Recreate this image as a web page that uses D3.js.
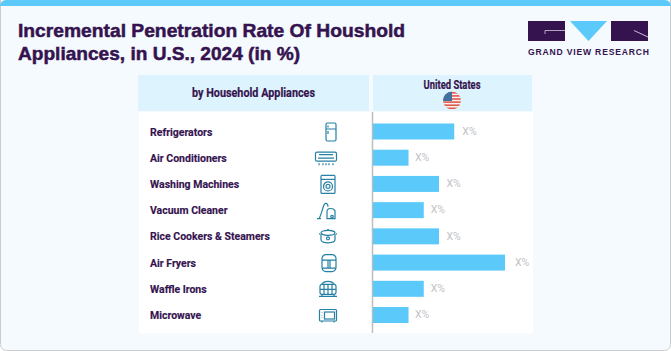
<!DOCTYPE html>
<html>
<head>
<meta charset="utf-8">
<script src="https://cdn.jsdelivr.net/npm/d3@7"></script>
<style>
  html, body { margin: 0; padding: 0; background: #fff; }
  svg { display: block; }
</style>
</head>
<body>
<svg id="chart" width="671" height="351"></svg>
<script>
const categories = [
  "Refrigerators",
  "Air Conditioners",
  "Washing Machines",
  "Vacuum Cleaner",
  "Rice Cookers & Steamers",
  "Air Fryers",
  "Waffle Irons",
  "Microwave",
];
// the source hides the numbers behind "X%", so these are bar lengths in relative units
const values = [16, 7, 13, 10, 13, 26, 10, 7];
const valueLabels = ["X%", "X%", "X%", "X%", "X%", "X%", "X%", "X%"];
const titleLines = ["Incremental Penetration Rate Of Houshold", "Appliances, in U.S., 2024 (in %)"];

const width = 671;
const height = 351;
const dark = "#35134F";
const blue = "#5BC9FA";
const iconColor = "#2580A3";
const titleFont = "'Liberation Sans', Arial, sans-serif";
const bodyFont = "Roboto, 'Liberation Sans', sans-serif";

const svg = d3.select("#chart");

// card background
svg.append("rect").attr("width", width).attr("height", height).attr("fill", "#fff");
svg.append("rect")
  .attr("x", 0.5).attr("y", -6).attr("width", width - 1).attr("height", height + 5.5)
  .attr("rx", 6)
  .attr("fill", "#F4FAFE").attr("stroke", "#C9CDD0");
const defs = svg.append("defs");
defs.append("clipPath").attr("id", "topClip")
  .append("rect").attr("width", width).attr("height", 40).attr("rx", 6);
svg.append("rect")
  .attr("width", width).attr("height", 6)
  .attr("fill", blue).attr("clip-path", "url(#topClip)");

// title
svg.append("g").selectAll("text")
  .data(titleLines)
  .join("text")
  .attr("x", 18)
  .attr("y", (d, i) => 37 + i * 23)
  .attr("fill", dark)
  .attr("stroke", dark)
  .attr("stroke-width", 0.5)
  .attr("font-family", titleFont)
  .attr("font-weight", 700)
  .attr("font-size", 18.5)
  .attr("textLength", (d, i) => (i === 0 ? 387 : 282))
  .attr("lengthAdjust", "spacingAndGlyphs")
  .text((d) => d);

// logo
const logo = svg.append("g");
logo.append("rect").attr("x", 528).attr("y", 21).attr("width", 37).attr("height", 20).attr("fill", dark);
logo.append("path").attr("d", "M570,21H607L588.5,41Z").attr("fill", blue);
logo.append("rect").attr("x", 611).attr("y", 21).attr("width", 37).attr("height", 20).attr("fill", dark);
logo.append("path").attr("d", "M565,30.5H545V34").attr("fill", "none").attr("stroke", "#E8E4EE").attr("stroke-width", 0.7);
logo.append("path").attr("d", "M634,30.5L648,37").attr("fill", "none").attr("stroke", "#E8E4EE").attr("stroke-width", 0.8);
logo.append("text")
  .attr("x", 528).attr("y", 54.5)
  .attr("fill", dark)
  .attr("font-family", "'Liberation Sans', Arial, sans-serif")
  .attr("font-weight", 700)
  .attr("font-size", 8.6)
  .attr("textLength", 121)
  .attr("lengthAdjust", "spacing")
  .text("GRAND VIEW RESEARCH");

// table panels
svg.append("rect").attr("x", 139).attr("y", 112).attr("width", 394).attr("height", 221).attr("fill", "#fff");
svg.append("rect").attr("x", 138).attr("y", 75).attr("width", 231).attr("height", 36).attr("fill", "#DDF3FD");
svg.append("rect").attr("x", 373).attr("y", 75).attr("width", 159).attr("height", 36).attr("fill", "#DDF3FD");

svg.append("text")
  .attr("x", 253.5).attr("y", 97)
  .attr("text-anchor", "middle")
  .attr("fill", dark)
  .attr("stroke", dark).attr("stroke-width", 0.2)
  .attr("font-family", bodyFont).attr("font-weight", 700).attr("font-size", 12)
  .attr("textLength", 123).attr("lengthAdjust", "spacingAndGlyphs")
  .text("by Household Appliances");
svg.append("text")
  .attr("x", 452).attr("y", 89)
  .attr("text-anchor", "middle")
  .attr("fill", dark)
  .attr("stroke", dark).attr("stroke-width", 0.2)
  .attr("font-family", bodyFont).attr("font-weight", 700).attr("font-size", 12)
  .attr("textLength", 57).attr("lengthAdjust", "spacingAndGlyphs")
  .text("United States");

// flag
const flag = svg.append("g");
defs.append("clipPath").attr("id", "flagClip")
  .append("circle").attr("cx", 452).attr("cy", 100.5).attr("r", 9);
const flagBody = flag.append("g").attr("clip-path", "url(#flagClip)");
flagBody.append("rect").attr("x", 443).attr("y", 91).attr("width", 18).attr("height", 19).attr("fill", "#F7F1EE");
flagBody.selectAll(".stripe")
  .data(d3.range(6))
  .join("rect")
  .attr("x", 443).attr("y", (d) => 92 + d * 3.1)
  .attr("width", 18).attr("height", 1.6)
  .attr("fill", "#E0584F");
flagBody.append("rect").attr("x", 443).attr("y", 91).attr("width", 9).attr("height", 10).attr("fill", "#44709F");

// scales
const x = d3.scaleLinear().domain([0, 26]).range([373, 505]);
// labels sit a little further out on long bars than on short ones
const xLabel = d3.scaleLinear().domain([0, 26]).range([378, 515]);
const y = d3.scaleBand().domain(categories).range([118.5, 328]).paddingInner(0.39).paddingOuter(0.19);

// category axis: its domain is the grey line, labels pulled to the left column
const yAxis = svg.append("g")
  .attr("transform", "translate(372.5,0)")
  .call(d3.axisLeft(y).tickSize(0).tickSizeOuter(0));
yAxis.select(".domain")
  .attr("d", "M0,112V333")
  .attr("stroke", "#BDBDBD").attr("stroke-width", 1.5);
yAxis.selectAll("text")
  .attr("x", 150 - 372.5)
  .attr("y", 0.7)
  .attr("text-anchor", "start")
  .attr("fill", dark)
  .attr("stroke", dark)
  .attr("stroke-width", 0.15)
  .attr("font-family", bodyFont)
  .attr("font-weight", 700)
  .attr("font-size", 10.5);

// bars
svg.append("g").selectAll("rect")
  .data(categories)
  .join("rect")
  .attr("x", x(0))
  .attr("y", (d) => y(d))
  .attr("width", (d, i) => x(values[i]) - x(0))
  .attr("height", y.bandwidth())
  .attr("fill", blue);

// value labels
svg.append("g").selectAll("text")
  .data(categories)
  .join("text")
  .attr("x", (d, i) => xLabel(values[i]))
  .attr("y", (d) => y(d) + y.bandwidth() / 2 + 3.2)
  .attr("fill", "#BFC3C6")
  .attr("font-family", bodyFont)
  .attr("font-size", 10.5)
  .text((d, i) => valueLabels[i]);

// small outline icons, one per row
const icons = [
  (g) => {
    g.append("rect").attr("x", -5).attr("y", -9).attr("width", 10).attr("height", 18).attr("rx", 1.5);
    g.append("path").attr("d", "M-5,-3H5M-3,-6.5V-4.5M-3,-1V2");
  },
  (g) => {
    g.append("rect").attr("x", -10.5).attr("y", -6).attr("width", 21).attr("height", 9).attr("rx", 1.5);
    g.append("path").attr("d", "M-7,-3.5H7M-8,0H8M-7,5V7M-3,5V7M0,5V7M3,5V7M7,5V7");
  },
  (g) => {
    g.append("rect").attr("x", -7).attr("y", -9).attr("width", 14).attr("height", 18).attr("rx", 1);
    g.append("path").attr("d", "M-7,-5H7");
    g.append("circle").attr("cy", 2).attr("r", 4.5);
    g.append("circle").attr("cy", 2).attr("r", 2);
  },
  (g) => {
    g.append("path").attr("d", "M-8,8C-5,3 -4,-6 -2,-7C0,-8 1,-6 1,-4");
    g.append("path").attr("d", "M-10,8H-6");
    g.append("path").attr("d", "M0,8V1C0,-3 6,-3 8,0V8Z");
    g.append("circle").attr("cx", 5).attr("cy", 6).attr("r", 1.2);
  },
  (g) => {
    g.append("ellipse").attr("cy", -4).attr("rx", 7).attr("ry", 2.5);
    g.append("path").attr("d", "M-7,-3V3C-7,7 7,7 7,3V-3M-8,-3H-9M8,-3H9M-1,-7H1");
    g.append("circle").attr("cy", 1.5).attr("r", 1.5);
  },
  (g) => {
    g.append("rect").attr("x", -7).attr("y", -8.5).attr("width", 14).attr("height", 17).attr("rx", 4);
    g.append("path").attr("d", "M-7,-3H7M-1,-3V5H1V-3M-7,5H7");
  },
  (g) => {
    g.append("rect").attr("x", -8).attr("y", -5).attr("width", 16).attr("height", 10).attr("rx", 2);
    g.append("path").attr("d", "M-6,-5C-4,-9 4,-9 6,-5M-9,7H9M-6,5V7M6,5V7M0,-5V5M-8,0H8M-4,-5V5M4,-5V5");
  },
  (g) => {
    g.append("rect").attr("x", -8.5).attr("y", -6).attr("width", 17).attr("height", 11.5).attr("rx", 1);
    g.append("rect").attr("x", -3.5).attr("y", -3.5).attr("width", 10).attr("height", 7);
    g.append("path").attr("d", "M-6,-3V-2.5M-6,-0.5V0M-6,2V2.5M-6,5.5V7M6,5.5V7");
  },
];
const iconX = [331, 326, 328, 327, 328, 329, 328, 328];

categories.forEach((c, i) => {
  const g = svg.append("g")
    .attr("transform", `translate(${iconX[i]},${y(c) + y.bandwidth() / 2 + 0.5})`)
    .attr("fill", "none")
    .attr("stroke", iconColor)
    .attr("stroke-width", 1.2);
  icons[i](g);
});
</script>
</body>
</html>
